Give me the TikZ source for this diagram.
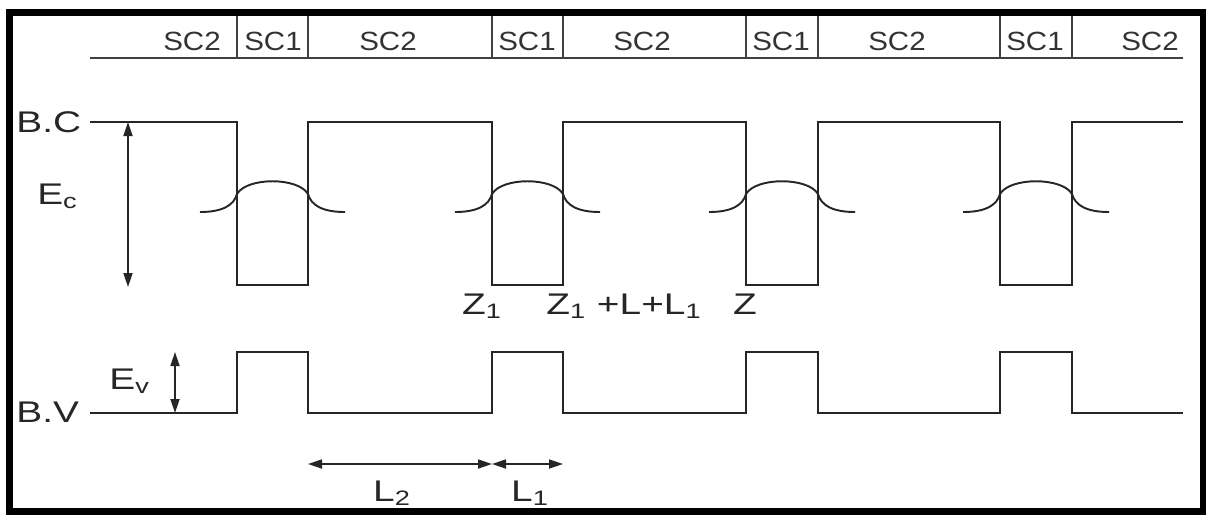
\documentclass[tikz,border=0pt]{standalone}
\usepackage{fontspec}
\setmainfont[FakeStretch=1.12]{Liberation Sans}
\newfontfamily\widesans[FakeStretch=1.3]{Liberation Sans}
\usetikzlibrary{arrows.meta}

\begin{document}
\begin{tikzpicture}[
      x=0.02cm, y=-0.02cm,
      band/.style={line width=1.1pt, draw=black!85},
      sep/.style={line width=0.8pt, draw=black!75},
      dim/.style={{Triangle[length=2.8mm,width=1.8mm]}-{Triangle[length=2.8mm,width=1.8mm]}, line width=1pt, draw=black!85},
      layerlbl/.style={font=\fontsize{15}{17}\selectfont, inner sep=0pt, text=black!80},
      lbl/.style={font=\widesans\fontsize{17}{19}\selectfont, inner sep=0pt, text=black!85},
    ]
    \useasboundingbox (0,0) rectangle (1206,515);
    \draw[line width=0.14cm] (9.5,12.5) rectangle (1203,511.5);

    % layer sequence
    \draw[sep] (90,58) -- (1183,58);
    \foreach \x in {237,308,492,563,746,818,1000,1072}
      \draw[sep] (\x,16) -- (\x,58);
    \foreach \x/\t [count=\i] in {192/SC2,273/SC1,388/SC2,527/SC1,642/SC2,781/SC1,897/SC2,1035/SC1,1150/SC2}
      \node[layerlbl, anchor=base] (layer\i) at (\x,50) {\t};

    % conduction and valence bands
    \draw[band] (90,122) \foreach \a/\b in {237/308,492/563,746/818,1000/1072}
      { -- (\a,122) -- (\a,285) -- (\b,285) -- (\b,122) } -- (1183,122);
    \draw[band] (90,413) \foreach \a/\b in {237/308,492/563,746/818,1000/1072}
      { -- (\a,413) -- (\a,352) -- (\b,352) -- (\b,413) } -- (1183,413);

    % wave functions
    \foreach \a/\b in {237/308,492/563,746/818,1000/1072}
      \draw[band] (\a-37,212) .. controls (\a-14,212) and (\a-3,205) .. (\a,194)
        .. controls (\a+10,177) and (\b-10,177) .. (\b,194)
        .. controls (\b+3,205) and (\b+14,212) .. (\b+37,212);

    \node[lbl, anchor=base west] (bc) at (16,132) {B.C};
    \node[lbl, anchor=base west] (ec) at (37,204) {E\textsubscript{c}};
    \node[lbl, anchor=base west] (bv) at (16,422) {B.V};
    \node[lbl, anchor=base west] (ev) at (109,389) {E\textsubscript{v}};

    \coordinate (ectop) at (128,122);
    \coordinate (ecbot) at (128,287);
    \coordinate (evtop) at (175,352);
    \coordinate (evbot) at (175,413);
    \draw[dim] (ectop) -- (ecbot);
    \draw[dim] (evtop) -- (evbot);

    \node[lbl, anchor=base] (z1) at (482,314) {Z\textsubscript{1}};
    \node[lbl, anchor=base] (zl) at (624,314) {Z\textsubscript{1} +L+L\textsubscript{1}};
    \node[lbl, anchor=base] (z) at (745,314) {Z};

    \coordinate (l2left) at (308,464);
    \coordinate (l2right) at (492,464);
    \coordinate (l1right) at (563,464);
    \draw[dim] (l2left) -- (l2right);
    \draw[dim] (l2right) -- (l1right);
    \node[lbl, anchor=base] (l2) at (392,501) {L\textsubscript{2}};
    \node[lbl, anchor=base] (l1) at (530,501) {L\textsubscript{1}};
  \end{tikzpicture}
\end{document}
